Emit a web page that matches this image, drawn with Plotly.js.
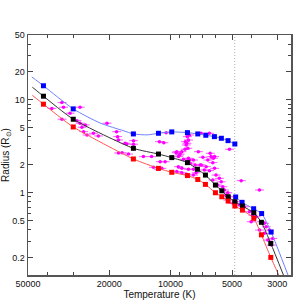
<!DOCTYPE html>
<html>
<head>
<meta charset="utf-8">
<script src="https://cdn.plot.ly/plotly-3.0.1.min.js"></script>
<style>html,body{margin:0;padding:0;background:#fff;}#chart{width:296px;height:300px;}</style>
</head>
<body>
<div id="chart"></div>
<script>
// Model squares
const blueT = [42000, 30000, 15220, 11470, 9870, 8270, 7360, 6720, 6100, 5640, 5230, 4844, 4800, 4465, 3918, 3580, 3216];
const blueR = [14.2, 8.0, 4.3, 4.37, 4.52, 4.44, 4.3, 4.16, 4.02, 3.86, 3.64, 3.35, 0.90, 0.788, 0.672, 0.597, 0.377];
const blackT = [42000, 30000, 15220, 11470, 9870, 8270, 7390, 6750, 6030, 5610, 5225, 4844, 4446, 3912, 3589, 3228];
const blackR = [10.96, 6.19, 3.01, 2.61, 2.39, 2.11, 1.79, 1.55, 1.21, 1.05, 0.905, 0.80, 0.719, 0.608, 0.48, 0.284];
const redT = [42000, 30000, 15220, 11470, 9870, 8270, 7360, 6750, 6030, 5610, 5225, 4844, 4446, 3912, 3589, 3228];
const redR = [8.99, 5.11, 2.31, 1.83, 1.66, 1.53, 1.39, 1.23, 1.0, 0.905, 0.814, 0.719, 0.65, 0.53, 0.352, 0.201];

// Model curves
const blueCurveT = [47900, 42000, 30000, 22000, 17000, 15200, 13000, 11470, 9870, 8270, 7360, 6720, 6100, 5640, 5230, 4844];
const blueCurveR = [17.7, 14.2, 8.0, 5.6, 4.65, 4.3, 4.2, 4.37, 4.52, 4.44, 4.3, 4.16, 4.02, 3.86, 3.64, 3.35];
const blueLowT = [4850, 4800, 4465, 3918, 3580, 3216, 2660];
const blueLowR = [0.94, 0.90, 0.788, 0.672, 0.597, 0.377, 0.13];
const blackCurveT = [47600, 42000, 30000, 15220, 11470, 9870, 8270, 7390, 6750, 6030, 5610, 5225, 4844, 4446, 3912, 3589, 3228, 2800];
const blackCurveR = [13.7, 10.96, 6.19, 3.01, 2.61, 2.39, 2.11, 1.79, 1.55, 1.21, 1.05, 0.905, 0.80, 0.719, 0.608, 0.48, 0.284, 0.13];
const redCurveT = [47600, 42000, 30000, 15220, 11470, 9870, 8270, 7360, 6750, 6030, 5610, 5225, 4844, 4446, 3912, 3589, 3228, 2950];
const redCurveR = [11.2, 8.99, 5.11, 2.31, 1.83, 1.66, 1.53, 1.39, 1.23, 1.0, 0.905, 0.814, 0.719, 0.65, 0.53, 0.352, 0.201, 0.13];

// Observed stars
const obsT = [38200,34100,33500,27800,31100,34100,28800,27800,26200,27200,26700,25700,23900,22600,20500,18400,18200,18000,16400,18000,16100,
 16700,15200,15200,17300,13600,12400,10800,9330,8980,9150,8810,8490,8330,8180,8280,8650,8180,7730,7310,8020,7580,11250,10640,12140,11470,9160,8810,8180,7730,7500,9330,8810,8330,7730,7160,11050,
 9400,9060,8090,6950,6570,6330,6090,6210,7080,6690,6450,6830,6090,5990,5770,5650,6210,5880,5550,5450,5250,5350,5150,4510,3670,4780,4600,4350,4110,3960,3810,3600,3470,3400,3280,3470,3340,3160,3210,4030,3670,4950,5250,6400,6170,
 5150,11350,8460,8390,8240,7080,6450,8090,10520];
const obsR = [8.1,9.35,8.34,8.34,7.19,6.19,5.98,5.61,5.37,5.07,4.55,4.19,4.37,4.09,5.61,4.55,4.02,3.70,3.35,2.68,2.61,
 3.41,3.64,3.33,2.70,2.45,2.45,3.46,2.77,2.61,2.45,2.77,2.94,3.41,3.70,4.02,2.29,2.35,2.25,2.77,2.08,1.99,2.16,2.16,1.88,1.79,1.91,1.83,1.79,1.79,1.64,1.69,1.64,1.58,1.55,1.99,1.83,
 2.70,2.55,2.25,2.41,2.25,2.45,2.45,2.11,1.99,1.91,1.73,1.76,1.83,1.55,1.43,1.31,1.37,1.21,1.16,1.07,1.0,0.94,0.905,1.35,1.07,0.80,0.737,0.706,0.624,0.574,0.551,0.487,0.468,0.43,0.396,0.365,0.309,0.322,0.273,0.487,0.396,0.769,0.834,2.66,2.35,
 2.94,3.55,3.55,3.27,3.01,4.37,4.37,4.19,4.44];

const refLineT = [4850, 4850];
const refLineR = [0.13, 50];

const xTicks = [50000, 20000, 10000, 5000, 3000];
const xTickText = ['50000', '20000', '10000', '5000', '3000'];
const xMinor = [40000, 30000, 9000, 8000, 7000, 6000, 4000];
const yTicks = [0.2, 0.5, 1, 2, 5, 10, 20, 50];
const yTickText = ['0.2', '0.5', '1', '2', '5', '10', '20', '50'];
const yMinor = [0.3, 0.4, 0.6, 0.7, 0.8, 0.9, 3, 4, 6, 7, 8, 9, 30, 40];

const traces = [
  {x: refLineT, y: refLineR, mode: 'lines', line: {color: '#b0b0b0', width: 1, dash: '1px,2px'}, hoverinfo: 'skip'},
  {x: obsT, y: obsR, mode: 'markers', marker: {color: '#ff00ff', size: 3.5},
   error_x: {type: 'percent', value: 5, color: '#ff55ff', thickness: 1, width: 0}},
  {x: blueCurveT, y: blueCurveR, mode: 'lines', line: {color: '#6f7fff', width: 1, shape: 'spline', smoothing: 0.7}},
  {x: blueLowT, y: blueLowR, mode: 'lines', line: {color: '#6f7fff', width: 1, shape: 'spline', smoothing: 0.6}},
  {x: blackCurveT, y: blackCurveR, mode: 'lines', line: {color: '#333333', width: 1, shape: 'spline', smoothing: 0.6}},
  {x: redCurveT, y: redCurveR, mode: 'lines', line: {color: '#ff5555', width: 1, shape: 'spline', smoothing: 0.6}},
  {x: blueT, y: blueR, mode: 'markers', marker: {symbol: 'square', color: '#0000ff', size: 5}},
  {x: blackT, y: blackR, mode: 'markers', marker: {symbol: 'square', color: '#000000', size: 5}},
  {x: redT, y: redR, mode: 'markers', marker: {symbol: 'square', color: '#ff0000', size: 5}}
];

const fontFam = 'Liberation Sans, Arial, sans-serif';
const layout = {
  width: 296, height: 300,
  margin: {l: 28, r: 5, t: 35, b: 25},
  paper_bgcolor: '#ffffff', plot_bgcolor: '#ffffff',
  showlegend: false,
  font: {family: fontFam, size: 9, color: '#111111'},
  xaxis: {
    type: 'log', autorange: false, range: [Math.log10(50000), Math.log10(2570)],
    tickvals: xTicks, ticktext: xTickText,
    ticks: 'inside', ticklen: 5, tickwidth: 1, tickcolor: '#444',
    showline: true, linecolor: '#555', linewidth: 1.5, mirror: 'ticks',
    showgrid: false, zeroline: false,
    minor: {tickvals: xMinor, ticks: 'inside', ticklen: 3, tickcolor: '#444', showgrid: false},
    tickfont: {family: fontFam, size: 9, color: '#111'},
    title: {text: 'Temperature (K)', font: {family: fontFam, size: 10, color: '#111'}, standoff: 2}
  },
  yaxis: {
    type: 'log', autorange: false, range: [Math.log10(0.13), Math.log10(50)],
    tickvals: yTicks, ticktext: yTickText,
    ticks: 'inside', ticklen: 5, tickwidth: 1, tickcolor: '#444',
    showline: true, linecolor: '#555', linewidth: 1.5, mirror: 'ticks',
    showgrid: false, zeroline: false,
    minor: {tickvals: yMinor, ticks: 'inside', ticklen: 3, tickcolor: '#444', showgrid: false},
    tickfont: {family: fontFam, size: 9, color: '#111'},
    title: {text: 'Radius (R<sub>⊙</sub>)', font: {family: fontFam, size: 10, color: '#111'}, standoff: 3}
  }
};

Plotly.newPlot('chart', traces, layout, {displayModeBar: false, staticPlot: true});
</script>
</body>
</html>
